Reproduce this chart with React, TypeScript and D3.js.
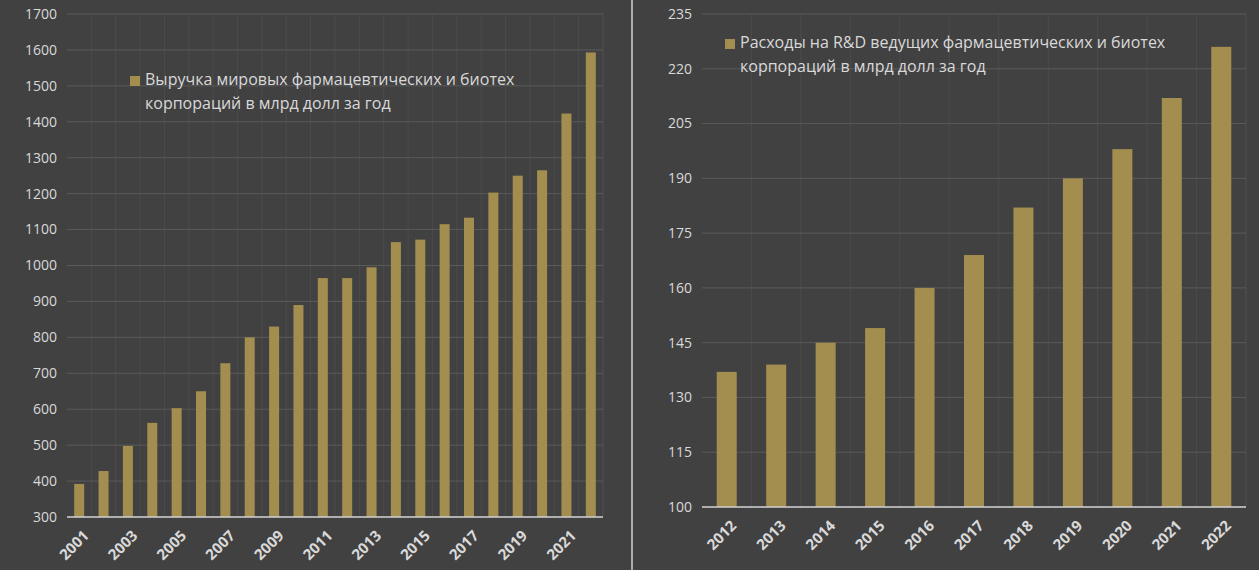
import React from "react";
import * as d3 from "d3";

const leftYears = d3.range(2001, 2023).map(String);
const leftValues = [392, 428, 498, 562, 603, 650, 728, 800, 830, 890, 965, 965, 995, 1065, 1072, 1115, 1133, 1203, 1250, 1265, 1423, 1593];
const leftTicks = d3.range(300, 1701, 100);
const rightYears = d3.range(2012, 2023).map(String);
const rightValues = [137, 139, 145, 149, 160, 169, 182, 190, 198, 212, 226];
const rightTicks = d3.range(100, 236, 15);

const BG = "#414141";
const BAR = "#a38d4f";
const GRID = "#5a5a5a";
const TXT = "#d9d9d9";
const FONT = "'Open Sans', 'DejaVu Sans', sans-serif";

function Panel({ cats, vals, ticks, x0, x1, y0, y1, domain, barW, labelEvery, legend, lx, ly }: any) {
  const x = d3.scaleBand().domain(cats).range([x0, x1]);
  const y = d3.scaleLinear().domain(domain).range([y0, y1]);
  return (
    <g fontFamily={FONT}>
      {ticks.map((t: number) => (
        <g key={t}>
          <line x1={x0} x2={x1} y1={y(t)} y2={y(t)} stroke={GRID} strokeWidth={1} />
          <text x={x0 - 10} y={y(t)} dy="0.35em" textAnchor="end" fill={TXT} fontSize={14}>{t}</text>
        </g>
      ))}
      {cats.map((c: string, i: number) => (
        <line key={"v" + c} x1={x(c)!} x2={x(c)!} y1={y1} y2={y0} stroke={GRID} strokeWidth={0.6} opacity={i === 0 ? 0 : 0.7} />
      ))}
      <line x1={x1} x2={x1} y1={y1} y2={y0} stroke={GRID} strokeWidth={0.6} />
      {cats.map((c: string, i: number) => (
        <rect key={c} x={x(c)! + x.bandwidth() / 2 - barW / 2} width={barW} y={y(vals[i])} height={y0 - y(vals[i])} fill={BAR} />
      ))}
      <line x1={x0} x2={x1} y1={y0} y2={y0} stroke="#d0d0d0" strokeWidth={1.5} />
      {cats.map((c: string, i: number) => i % labelEvery === 0 ? (
        <text key={"l" + c} transform={`translate(${x(c)! + x.bandwidth() / 2 + 7},${y0 + 16}) rotate(-45)`} textAnchor="end" dy="0.35em" fill={TXT} fontSize={15} fontWeight="bold">{c}</text>
      ) : null)}
      <rect x={lx} y={ly - 9} width={10} height={10} fill={BAR} />
      <text x={lx + 15} y={ly} fill={TXT} fontSize={16}>{legend[0]}</text>
      <text x={lx + 15} y={ly + 24} fill={TXT} fontSize={16}>{legend[1]}</text>
    </g>
  );
}

export default function App() {
  return (
    <svg width={1259} height={570} style={{ position: "absolute", left: 0, top: 0, background: BG }}>
      <rect width={1259} height={570} fill={BG} />
      <Panel cats={leftYears} vals={leftValues} ticks={leftTicks} x0={67} x1={603} y0={517} y1={14} domain={[300, 1700]} barW={10} labelEvery={2}
        legend={["Выручка мировых фармацевтических и биотех", "корпораций в млрд долл за год"]} lx={130} ly={85} />
      <line x1={632} x2={632} y1={0} y2={570} stroke="#cfcfcf" strokeWidth={1.5} />
      <Panel cats={rightYears} vals={rightValues} ticks={rightTicks} x0={702} x1={1246} y0={507} y1={14} domain={[100, 235]} barW={20} labelEvery={1}
        legend={["Расходы на R&D ведущих фармацевтических и биотех", "корпораций в млрд долл за год"]} lx={725} ly={48} />
    </svg>
  );
}
